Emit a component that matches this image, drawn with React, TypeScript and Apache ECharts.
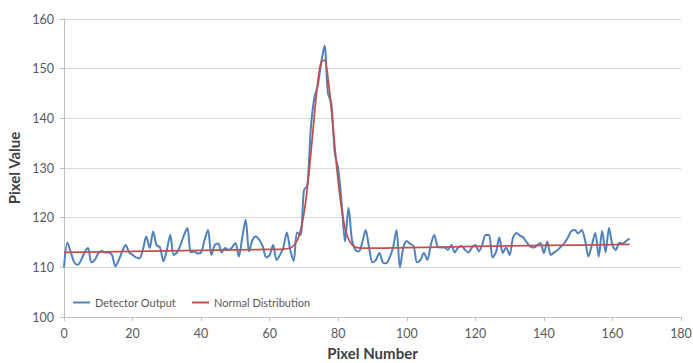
import React, { useEffect, useRef } from "react";
import * as echarts from "echarts";

const detectorOutput: number[] = [
  110, 115, 113, 111, 110.5, 111.5, 113, 113.9, 111, 111.5,
  112.8, 113.3, 113, 113, 112.5, 110.2, 111.5, 113.2, 114.5, 113,
  112.5, 112, 111.8, 113.5, 116.2, 113.9, 117.2, 114.5, 114, 111.2,
  113.5, 116.5, 112.5, 113, 114.5, 116.5, 117.9, 113, 113.2, 112.8,
  113, 115.5, 117.5, 112.5, 114.5, 114.8, 113, 113.9, 113.5, 114,
  114.9, 112.2, 116, 119.6, 113.2, 115.5, 116.2, 115.5, 114.2, 112,
  112.5, 114.5, 111.5, 112.5, 114, 117, 113.5, 111.3, 117, 116.5,
  125.5, 126.5, 138, 144, 146.5, 151, 154.6, 145, 143, 133,
  129.8, 123, 115.2, 122, 115.5, 113.5, 113.2, 115, 117.5, 114,
  111, 111.5, 112.9, 111, 110.8, 112, 114, 117.5, 110, 114,
  115.3, 114.7, 114.3, 111, 111.5, 112.9, 111.5, 114.5, 116.5, 114.2,
  114, 114, 113.5, 114.5, 113, 114, 114.3, 113.5, 113, 114,
  114.5, 113.2, 114.5, 116.5, 116.5, 112, 113, 116, 112.9, 114,
  112.5, 116, 116.9, 116.4, 116, 115, 114.2, 114, 114.4, 114.9,
  112.9, 115.2, 112.5, 113, 113.5, 114.2, 114.9, 116, 117.3, 117.5,
  116.8, 117.5, 115.5, 112.2, 114.5, 116.9, 112.2, 117.3, 113, 117.9,
  114.5, 113.5, 114.9, 114.8, 115.3, 115.8,
];

const normalX: number[] = [
  0, 20, 40, 60, 64, 66, 67, 68, 69, 70, 71, 72, 73, 74, 75, 76, 77, 78,
  79, 80, 81, 82, 83, 84, 85, 86, 88, 100, 120, 140, 165,
];
const normalY: number[] = [
  113.0, 113.2, 113.4, 113.6, 113.65, 113.9, 114.4, 115.4, 117.4, 120.8,
  126.0, 132.8, 140.3, 147.1, 151.3, 151.7, 148.2, 141.8, 134.3, 127.2,
  121.7, 117.9, 115.7, 114.6, 114.1, 113.9, 113.85, 113.98, 114.2, 114.4,
  114.6,
];

const xTicks = { min: 0, max: 180, interval: 20 };
const yTicks = { min: 100, max: 160, interval: 10 };

const FONT = "Lato, 'Open Sans', sans-serif";

export default function App() {
  const ref = useRef<HTMLDivElement>(null);

  useEffect(() => {
    if (!ref.current) return;
    const chart = echarts.init(ref.current, null, { renderer: "svg" });
    const blueData = detectorOutput.map((v, i) => [i, v]);
    const redData = normalX.map((x, i) => [x, normalY[i]]);
    chart.setOption({
      animation: false,
      backgroundColor: "#ffffff",
      textStyle: { fontFamily: FONT },
      grid: { left: 64, right: 12, top: 19, bottom: 46, containLabel: false, outerBoundsMode: "none" },
      legend: {
        left: 73,
        top: 297,
        padding: 0,
        icon: "rect",
        itemWidth: 17,
        itemHeight: 2,
        itemGap: 16,
        textStyle: { color: "#595959", fontSize: 11, fontFamily: FONT },
        data: ["Detector Output", "Normal Distribution"],
      },
      xAxis: {
        type: "value",
        min: xTicks.min,
        max: xTicks.max,
        interval: xTicks.interval,
        name: "Pixel Number",
        nameLocation: "middle",
        nameGap: 28,
        nameTextStyle: { color: "#404040", fontSize: 15, fontWeight: "bold", fontFamily: FONT },
        axisLine: { show: true, lineStyle: { color: "#bfbfbf", width: 1 } },
        axisTick: { show: true, length: 4, lineStyle: { color: "#bfbfbf" } },
        axisLabel: { color: "#595959", fontSize: 12.5, margin: 10, fontFamily: FONT },
        splitLine: { show: false },
      },
      yAxis: {
        type: "value",
        min: yTicks.min,
        max: yTicks.max,
        interval: yTicks.interval,
        name: "Pixel Value",
        nameLocation: "middle",
        nameGap: 32,
        nameTextStyle: { color: "#404040", fontSize: 15, fontWeight: "bold", fontFamily: FONT },
        axisLine: { show: true, lineStyle: { color: "#bfbfbf", width: 1 } },
        axisTick: { show: true, length: 4, lineStyle: { color: "#bfbfbf" } },
        axisLabel: { color: "#595959", fontSize: 12.5, margin: 10, fontFamily: FONT },
        splitLine: { show: true, lineStyle: { color: "#d9d9d9", width: 1 } },
      },
      series: [
        {
          name: "Detector Output",
          type: "line",
          data: blueData,
          smooth: 0.3,
          showSymbol: false,
          symbol: "none",
          lineStyle: { color: "#4F81BD", width: 2 },
          itemStyle: { color: "#4F81BD" },
          z: 2,
        },
        {
          name: "Normal Distribution",
          type: "line",
          data: redData,
          smooth: 0.3,
          showSymbol: false,
          symbol: "none",
          lineStyle: { color: "#C0504D", width: 1.75 },
          itemStyle: { color: "#C0504D" },
          z: 3,
        },
      ],
    });
    return () => chart.dispose();
  }, []);

  return <div ref={ref} style={{ width: 693, height: 363, position: "absolute", left: 0, top: 0 }} />;
}
